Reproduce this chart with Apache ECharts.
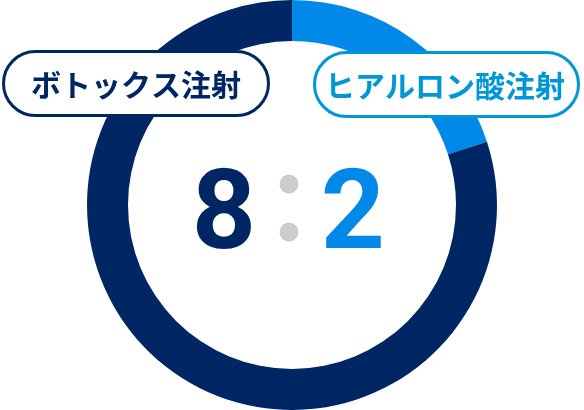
<!DOCTYPE html>
<html>
<head>
<meta charset="utf-8">
<script src="https://cdn.jsdelivr.net/npm/echarts@6/dist/echarts.min.js"></script>
<style>
  html, body { margin: 0; padding: 0; background: #fff; }
  #chart { width: 584px; height: 410px; }
</style>
</head>
<body>
<div id="chart"></div>
<script>
// 施術の割合
var categories = ['ヒアルロン酸注射', 'ボトックス注射'];
var shares = [20, 80];
var ratio = [8, 2]; // ボトックス : ヒアルロン酸
var colors = ['#0089e8', '#002664'];

var chart = echarts.init(document.getElementById('chart'));

var jpFont = '"Noto Sans CJK JP", "Noto Sans", sans-serif';

var option = {
    animation: false,
    series: [
        {
            type: 'pie',
            silent: true,
            center: [292, 205],
            radius: [164, 205],
            startAngle: 90,
            clockwise: true,
            label: {show: false},
            labelLine: {show: false},
            itemStyle: {borderWidth: 0},
            data: categories.map(function (name, i) {
                return {name: name, value: shares[i], itemStyle: {color: colors[i]}};
            })
        }
    ],
    graphic: [
        // 左ラベル
        {
            type: 'rect',
            shape: {x: 3.5, y: 51.5, width: 265, height: 64, r: 32},
            style: {fill: '#fff', stroke: '#002664', lineWidth: 3},
            z: 10
        },
        {
            type: 'text',
            x: 136, y: 85,
            style: {
                text: categories[1], fill: '#002664',
                font: 'bold 30px ' + jpFont,
                align: 'center', verticalAlign: 'middle'
            },
            z: 11
        },
        // 右ラベル
        {
            type: 'rect',
            shape: {x: 314.5, y: 52.5, width: 264, height: 64, r: 32},
            style: {fill: '#fff', stroke: '#0097d7', lineWidth: 3},
            z: 10
        },
        {
            type: 'text',
            x: 445, y: 86,
            style: {
                text: categories[0], fill: '#0097d7',
                font: 'bold 30px ' + jpFont,
                align: 'center', verticalAlign: 'middle'
            },
            z: 11
        },
        // 中央の比率
        {
            type: 'text',
            x: 224, y: 220,
            style: {
                text: String(ratio[0]), fill: '#002664',
                font: 'bold 112px Roboto, sans-serif',
                align: 'center', verticalAlign: 'middle'
            },
            z: 11
        },
        {
            type: 'text',
            x: 353, y: 220,
            style: {
                text: String(ratio[1]), fill: '#0089e8',
                font: 'bold 112px Roboto, sans-serif',
                align: 'center', verticalAlign: 'middle'
            },
            z: 11
        },
        {
            type: 'circle',
            shape: {cx: 289, cy: 184, r: 9.5},
            style: {fill: '#cccccc'},
            z: 11
        },
        {
            type: 'circle',
            shape: {cx: 289, cy: 232, r: 9.5},
            style: {fill: '#cccccc'},
            z: 11
        }
    ]
};

chart.setOption(option);
</script>
</body>
</html>
